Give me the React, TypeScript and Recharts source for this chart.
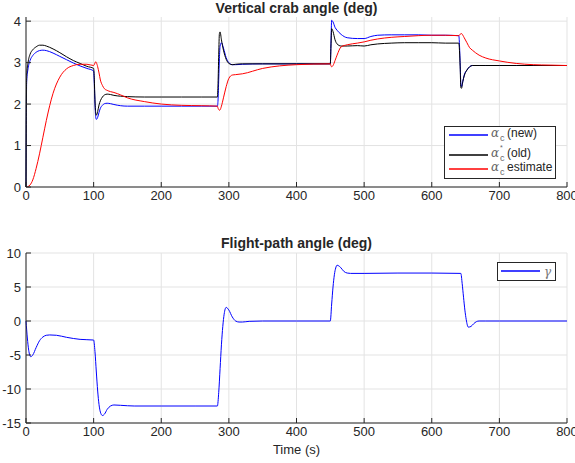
import React from 'react';
import { LineChart, Line, XAxis, YAxis, CartesianGrid } from 'recharts';

const FONT = '"Liberation Sans", Arial, Helvetica, sans-serif';
const SERIF = '"DejaVu Serif", "Liberation Serif", serif';
const INK = '#262626';

// top panel: crab angle (deg) vs time (s)
const crabTime = [
  0, 1, 3, 6, 10, 15, 20, 25, 30, 40, 50, 60, 70, 80, 90, 100, 101, 102, 103, 104,
  106, 108, 110, 113, 116, 120, 125, 130, 140, 150, 175, 200, 230, 260, 283, 284, 285, 286, 287, 289,
  292, 296, 300, 305, 310, 320, 350, 400, 450, 451, 452, 454, 457, 460, 466, 475, 490, 500, 510, 520,
  540, 560, 580, 600, 620, 640, 642, 643, 644, 646, 648, 652, 656, 660, 670, 680, 700, 725, 750, 775, 800,
];
const crabNew = [
  0, 2.55, 2.85, 3.05, 3.17, 3.25, 3.29, 3.3, 3.29, 3.23, 3.15, 3.07, 2.99, 2.92, 2.86, 2.8, 2.5, 2.0, 1.7, 1.63,
  1.68, 1.8, 1.9, 1.97, 2.01, 2.02, 2.01, 1.99, 1.96, 1.95, 1.95, 1.95, 1.95, 1.95, 1.95, 2.1, 2.6, 3.1, 3.4, 3.48,
  3.35, 3.12, 3.0, 2.95, 2.95, 2.96, 2.97, 2.97, 2.97, 3.5, 4.02, 3.98, 3.85, 3.78, 3.68, 3.6, 3.58, 3.58, 3.63, 3.66,
  3.67, 3.67, 3.67, 3.66, 3.66, 3.65, 3.0, 2.5, 2.42, 2.55, 2.7, 2.82, 2.9, 2.93, 2.93, 2.93, 2.93, 2.93, 2.93, 2.93, 2.93,
];
const crabOld = [
  0, 2.7, 3.0, 3.2, 3.31, 3.38, 3.42, 3.42, 3.4, 3.33, 3.24, 3.14, 3.05, 2.98, 2.91, 2.86, 2.6, 2.1, 1.8, 1.73,
  1.82, 1.98, 2.08, 2.17, 2.22, 2.24, 2.23, 2.21, 2.19, 2.18, 2.17, 2.17, 2.17, 2.17, 2.17, 2.5, 3.2, 3.7, 3.74, 3.55,
  3.3, 3.08, 2.98, 2.95, 2.96, 2.97, 2.97, 2.97, 2.97, 3.4, 3.82, 3.75, 3.55, 3.45, 3.4, 3.4, 3.41, 3.4, 3.43, 3.45,
  3.47, 3.48, 3.48, 3.48, 3.47, 3.47, 2.9, 2.4, 2.38, 2.55, 2.68, 2.82, 2.9, 2.93, 2.93, 2.93, 2.93, 2.93, 2.93, 2.93, 2.93,
];
const crabEst = [
  0, 0, 0.01, 0.05, 0.17, 0.45, 0.8, 1.2, 1.6, 2.26, 2.65, 2.85, 2.93, 2.96, 2.96, 2.93, 2.95, 2.99, 3.02, 3.0,
  2.9, 2.75, 2.58, 2.45, 2.37, 2.33, 2.3, 2.28, 2.22, 2.15, 2.06, 2.0, 1.97, 1.96, 1.95, 1.9, 1.87, 1.85, 1.86, 1.95,
  2.15, 2.42, 2.62, 2.7, 2.71, 2.73, 2.86, 2.95, 2.97, 2.92, 2.9, 2.93, 3.05, 3.18, 3.38, 3.43, 3.47, 3.5, 3.54, 3.57,
  3.61, 3.63, 3.65, 3.66, 3.66, 3.65, 3.68, 3.7, 3.7, 3.66, 3.6, 3.48, 3.36, 3.3, 3.18, 3.11, 3.04, 2.98, 2.95, 2.94, 2.93,
];

// bottom panel: flight-path angle (deg)
const gammaTime = [
  0, 2, 4, 7, 10, 15, 20, 25, 30, 35, 45, 60, 80, 100, 102, 104, 106, 108, 110, 113,
  116, 120, 125, 130, 140, 160, 200, 250, 283, 285, 287, 289, 291, 293, 296, 300, 305, 310, 315, 320,
  330, 350, 400, 450, 452, 454, 456, 458, 460, 465, 470, 475, 480, 500, 550, 600, 643, 645, 647, 649,
  651, 654, 658, 662, 666, 670, 680, 700, 800,
];
const gammaDeg = [
  0, -2.5, -4.3, -5.25, -5.0, -3.9, -2.9, -2.35, -2.1, -2.05, -2.1, -2.4, -2.7, -2.8, -4.5, -7.5, -10.3, -12.3, -13.4, -13.9,
  -13.7, -13.0, -12.5, -12.35, -12.4, -12.5, -12.5, -12.5, -12.5, -10.5, -7.0, -3.5, -0.8, 1.0, 2.0, 1.6, 0.6, 0.0, -0.15, -0.15,
  -0.05, 0, 0, 0, 2.5, 5.0, 6.8, 7.8, 8.2, 7.9, 7.3, 7.05, 7.0, 7.0, 7.05, 7.05, 7.0, 5.5, 3.5, 1.6,
  0.2, -0.9, -0.8, -0.4, -0.1, 0, 0, 0, 0,
];

const timeTicks = [0, 100, 200, 300, 400, 500, 600, 700, 800];
const crabTicks = [0, 1, 2, 3, 4];
const gammaTicks = [-15, -10, -5, 0, 5, 10];

const crabRows = crabTime.map((t, i) => ({ t, a: crabNew[i], b: crabOld[i], c: crabEst[i] }));
const gammaRows = gammaTime.map((t, i) => ({ t, g: gammaDeg[i] }));

const tickStyle = { fill: INK, fontSize: 13, fontFamily: FONT };
const lineStyle = { stroke: INK };

// MATLAB-like box: inward ticks on all four sides
function frame(yDomain: [number, number], yTicks: number[]) {
  return [
    <CartesianGrid key="grid" stroke="#e3e3e3" horizontalValues={yTicks} verticalValues={timeTicks} />,
    <XAxis key="xb" dataKey="t" type="number" domain={[0, 800]} ticks={timeTicks} height={28}
      tickSize={-5} tickMargin={9} tick={tickStyle} axisLine={lineStyle} tickLine={lineStyle} interval={0} />,
    <XAxis key="xt" xAxisId="top" orientation="top" dataKey="t" type="number" domain={[0, 800]} ticks={timeTicks}
      height={0} tickSize={-5} tick={false} axisLine={lineStyle} tickLine={lineStyle} />,
    <YAxis key="yl" type="number" domain={yDomain} ticks={yTicks} width={26} allowDataOverflow
      tickSize={-5} tickMargin={10} tick={tickStyle} axisLine={lineStyle} tickLine={lineStyle} interval={0} />,
    <YAxis key="yr" yAxisId="right" orientation="right" type="number" domain={yDomain} ticks={yTicks} width={0}
      allowDataOverflow tickSize={-5} tick={false} axisLine={lineStyle} tickLine={lineStyle} />,
  ];
}

const title = (text: string, top: number) => (
  <div style={{ position: 'absolute', left: 26, width: 541, top, textAlign: 'center', fontFamily: FONT,
    fontWeight: 'bold', fontSize: 14, color: INK, lineHeight: '16px' }}>{text}</div>
);

// one legend entry: sample line, α with subscript c, then the label
const alphaEntry = (color: string, y: number, label: string, star = false) => (
  <g key={label}>
    <line x1={5} x2={44} y1={y + 2} y2={y + 2} stroke={color} strokeWidth={1.3} />
    <text x={47} y={y} dominantBaseline="central" fontFamily={SERIF} fontStyle="italic" fontSize={12} fill="#666">α</text>
    <text x={56} y={y + 5} dominantBaseline="central" fontFamily={FONT} fontSize={9} fill="#666">c</text>
    {star && <text x={56} y={y - 6} dominantBaseline="central" fontFamily={FONT} fontSize={7} fill="#666">*</text>}
    <text x={63} y={y} dominantBaseline="central" fontFamily={FONT} fontSize={12} fill={INK}>{label}</text>
  </g>
);

export default function App() {
  return (
    <div style={{ position: 'absolute', left: 0, top: 0, width: 575, height: 463, background: '#fff', overflow: 'hidden' }}>
      {title('Vertical crab angle (deg)', 0)}
      <div style={{ position: 'absolute', left: 0, top: 0 }}>
        <LineChart width={575} height={215} data={crabRows} margin={{ top: 17, right: 8, left: 0, bottom: 0 }}>
          {frame([0, 4.1], crabTicks)}
          <Line type="monotone" dataKey="a" stroke="#0000ff" strokeWidth={1} dot={false} isAnimationActive={false} />
          <Line type="monotone" dataKey="b" stroke="#000000" strokeWidth={1} dot={false} isAnimationActive={false} />
          <Line type="monotone" dataKey="c" stroke="#ff0000" strokeWidth={1} dot={false} isAnimationActive={false} />
        </LineChart>
      </div>
      <svg width={113} height={54} style={{ position: 'absolute', left: 444, top: 126 }}>
        <rect x={0.5} y={0.5} width={111} height={52} fill="#fff" stroke={INK} />
        {alphaEntry('#0000ff', 7, '(new)')}
        {alphaEntry('#000000', 27, '(old)', true)}
        {alphaEntry('#ff0000', 41, 'estimate')}
      </svg>

      {title('Flight-path angle (deg)', 235)}
      <div style={{ position: 'absolute', left: 0, top: 236 }}>
        <LineChart width={575} height={215} data={gammaRows} margin={{ top: 17, right: 8, left: 0, bottom: 0 }}>
          {frame([-15, 10], gammaTicks)}
          <Line type="monotone" dataKey="g" stroke="#0000ff" strokeWidth={1} dot={false} isAnimationActive={false} />
        </LineChart>
      </div>
      <svg width={60} height={20} style={{ position: 'absolute', left: 497, top: 262 }}>
        <rect x={0.5} y={0.5} width={58} height={18} fill="#fff" stroke={INK} />
        <line x1={4} x2={43} y1={9} y2={9} stroke="#0000ff" strokeWidth={1.3} />
        <text x={47} y={10} dominantBaseline="central" fontFamily={SERIF} fontStyle="italic" fontSize={12} fill="#777">γ</text>
      </svg>
      <div style={{ position: 'absolute', left: 26, width: 541, top: 442, textAlign: 'center', fontFamily: FONT,
        fontSize: 13, color: INK, lineHeight: '16px' }}>Time (s)</div>
    </div>
  );
}
